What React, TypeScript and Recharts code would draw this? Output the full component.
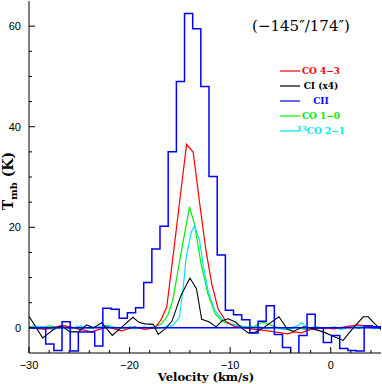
import React from 'react';
import { LineChart, Line, XAxis, YAxis, ReferenceLine, Customized } from 'recharts';

// CII: histogram channels (centres, km/s) and T_mb (K)
const ciiVel = [
  -30.37, -29.56, -28.75, -27.93, -27.12, -26.31, -25.5, -24.69, -23.87, -23.06, -22.25, -21.44,
  -20.63, -19.81, -19.0, -18.19, -17.38, -16.57, -15.75, -14.94, -14.13, -13.32, -12.51, -11.69,
  -10.88, -10.07, -9.26, -8.45, -7.63, -6.82, -6.01, -5.2, -4.39, -3.57, -2.76, -1.95, -1.14,
  -0.33, 0.49, 1.3, 2.11, 2.92, 3.73, 4.55, 5.36,
];
const ciiT = [
  0, 0, 0, -3.2, -4.5, 1.2, -4.6, -0.8, -0.8, -3.6, 3.9, 3.7,
  1.9, 3.0, 4.0, 9.0, 15.7, 20.2, 35.0, 49.0, 62.5, 59.5, 48.0, 30.1,
  14.5, 3.5, 2.6, 1.6, -1.0, 1.3, 4.4, -1.3, -3.9, -7.0, -1.5, 2.7, 0.0,
  -2.9, -1.5, -4.1, -4.5, -4.6, 0.4, 0.2, 0.0,
];

// [velocity, T_mb]
const co43: [number, number][] = [
  [-30, 0.1], [-28.4, -0.3], [-26.6, 0.5], [-25.1, -0.2], [-23.8, -0.8], [-22.2, 0.2], [-20.8, -0.6],
  [-19.5, 0.2], [-18.5, -0.3], [-17.5, 0.0], [-16.9, 1.5], [-16.3, 4.2], [-15.6, 15.5], [-15.0, 25.5],
  [-14.33, 36.5], [-13.67, 34.9], [-13.0, 24.3], [-12.4, 15.3], [-11.8, 8.5], [-11.2, 3.8], [-10.4, 1.2],
  [-9.6, 0.3], [-8.6, 0.0], [-7.6, -0.3], [-6.6, -0.5], [-5.6, -0.8], [-4.3, -1.2], [-3.6, -0.8],
  [-2.9, -1.0], [-2.0, -0.3], [-0.7, 0.0], [0.3, -0.2], [1.4, 0.2], [2.7, 0.6], [3.7, 0.3], [5, 0.1],
];
const ci4: [number, number][] = [
  [-30, 2.3], [-28.64, -2.0], [-27.35, 0.0], [-26.75, 0.4], [-25.92, -0.8], [-25.1, -0.8], [-24.26, 0.6],
  [-23.61, 0.0], [-22.77, 1.0], [-21.72, -1.5], [-20.53, 0.6], [-19.66, 2.1], [-19.07, 1.1], [-18.47, 0.8],
  [-17.64, 0.7], [-17.15, -1.3], [-16.48, -0.2], [-15.79, 1.3], [-14.9, 6.4], [-14.0, 9.9], [-13.35, 7.8],
  [-12.83, 1.7], [-12.11, 1.2], [-11.38, 0.2], [-10.81, 1.4], [-10.19, 1.8], [-9.42, 1.1], [-8.86, 0.0],
  [-8.2, -1.0], [-7.53, -0.9], [-6.71, 0.0], [-5.15, 2.2], [-4.3, -0.3], [-3.73, -0.7], [-2.73, 0.2],
  [-2.07, 0.0], [-0.75, -0.8], [0.42, -1.8], [1.24, -2.5], [1.91, -0.8], [3.23, 2.2], [3.73, 2.2],
  [4.39, 0.8], [5.09, -0.5],
];
const co10: [number, number][] = [
  [-30, 0.3], [-29, -0.2], [-28, 0.4], [-27, 0.0], [-26, 0.3], [-25, -0.3], [-24, 0.2], [-23, 0.1],
  [-22, 0.4], [-21, -0.2], [-20, 0.2], [-19, 0.0], [-18, 0.1], [-17.5, 0.2], [-16.8, 0.8], [-16.2, 2.5],
  [-15.7, 5.5], [-14.87, 15.0], [-14.04, 24.0], [-13.55, 20.7], [-12.89, 12.7], [-12.22, 6.8],
  [-11.5, 2.8], [-10.73, 1.2], [-9.9, 0.7], [-9.2, 0.5], [-8.4, 0.2], [-7.6, 0.3], [-6.8, 1.2],
  [-6.0, 0.6], [-5.2, 0.0], [-4.4, -0.3], [-3.6, 0.2], [-2.8, -0.2], [-2.2, -0.4], [-1.4, 0.2],
  [-0.5, -0.2], [0.4, 0.2], [1.2, -0.2], [2.0, 0.3], [2.8, -0.1], [3.6, 0.4], [4.4, -0.2], [5.1, 0.2],
];
const co13_21: [number, number][] = [
  [-30, 0.0], [-29.6, 0.4], [-28.5, 0.2], [-27.6, -0.4], [-26.7, 0.3], [-25.8, -0.2], [-24.9, 0.4],
  [-24.0, -0.1], [-23.1, 0.2], [-22.2, 0.5], [-21.3, -0.2], [-20.4, 0.1], [-19.5, -0.2], [-18.6, 0.2],
  [-17.7, -0.1], [-16.8, 0.0], [-15.7, 0.5], [-15.04, 2.1], [-14.7, 7.4], [-14.37, 14.0], [-13.87, 19.0],
  [-13.54, 20.3], [-13.04, 17.4], [-12.7, 12.7], [-12.2, 7.4], [-11.54, 3.5], [-10.7, 1.5], [-9.87, 0.8],
  [-8.9, 0.3], [-8.0, 0.0], [-7.2, 0.3], [-6.3, -0.2], [-5.5, 0.1], [-4.7, -0.3], [-3.8, -0.2],
  [-2.89, 1.0], [-2.3, 0.0], [-1.5, 0.2], [-0.7, -0.1], [0.2, 0.1], [1.0, -0.3], [1.9, 0.2], [2.8, 0.4],
  [3.7, 0.1], [4.6, -0.1], [5.2, 0.2],
];

const xTicks = [-30, -28, -26, -24, -22, -20, -18, -16, -14, -12, -10, -8, -6, -4, -2, 0, 2, 4];
const yTicks = [0, 5, 10, 15, 20, 25, 30, 35, 40, 45, 50, 55, 60];

const title = '(\u2212145\u2033/174\u2033)';
const legendItems = [
  { label: 'CO 4\u22123', color: '#ff0000' },
  { label: 'CI (x4)', color: '#000000' },
  { label: 'CII', color: '#0000ff' },
  { label: 'CO 1\u22120', color: '#00ee00' },
  { label: 'CO 2\u22121', color: '#00e5ee', sup: '13' },
];

const toPts = (arr: [number, number][]) => arr.map(([v, t]) => ({ v, t }));
const ciiData = ciiVel.map((v, i) => ({ v, t: ciiT[i] }));

const fmt = (n: number) => (n < 0 ? `\u2212${Math.abs(n)}` : `${n}`);
const tickFont = '"Liberation Sans", Arial, sans-serif';
const serif = '"DejaVu Serif", serif';

const BottomTick = ({ x, y, payload }: any) => {
  const major = payload.value % 10 === 0;
  return (
    <g>
      <line x1={x} x2={x} y1={y} y2={y - (major ? 6 : 3)} stroke="#000" />
      {major && (
        <text x={x} y={y + 16} textAnchor="middle" fontSize={11} fontFamily={tickFont} fill="#000">
          {fmt(payload.value)}
        </text>
      )}
    </g>
  );
};
const TopTick = ({ x, y, payload }: any) => {
  const major = payload.value % 10 === 0;
  return <line x1={x} x2={x} y1={y} y2={y + (major ? 6 : 3)} stroke="#000" />;
};
const LeftTick = ({ x, y, payload }: any) => {
  const major = payload.value % 20 === 0;
  return (
    <g>
      <line x1={x} x2={x + (major ? 6 : 3)} y1={y} y2={y} stroke="#000" />
      {major && (
        <text x={x - 8} y={y + 4} textAnchor="end" fontSize={11} fontFamily={tickFont} fill="#000">
          {fmt(payload.value)}
        </text>
      )}
    </g>
  );
};
const RightTick = ({ x, y, payload }: any) => {
  const major = payload.value % 20 === 0;
  return <line x1={x} x2={x - (major ? 6 : 3)} y1={y} y2={y} stroke="#000" />;
};

const Annotations = () => (
  <g>
    <text x={301} y={31} textAnchor="middle" fontSize={15} fontFamily={serif} fill="#000">
      {title}
    </text>
    {legendItems.map((it, i) => {
      const y = 71 + i * 15;
      return (
        <g key={it.label}>
          <line x1={280} x2={300} y1={y} y2={y} stroke={it.color} strokeWidth={1.2} />
          <text x={321} y={y + 3} textAnchor="middle" fontSize={9} fontWeight="bold" fontFamily={serif} fill={it.color}>
            {it.sup && (
              <tspan fontSize={7} dy={-3}>
                {it.sup}
              </tspan>
            )}
            {it.sup ? <tspan dy={3}>{it.label}</tspan> : it.label}
          </text>
        </g>
      );
    })}
    <text x={206} y={381} textAnchor="middle" fontSize={11.5} fontWeight="bold" fontFamily={serif} fill="#000">
      Velocity (km/s)
    </text>
    <text
      x={13}
      y={181}
      textAnchor="middle"
      fontSize={14}
      fontWeight="bold"
      fontFamily={serif}
      fill="#000"
      transform="rotate(-90 13 181)"
    >
      T
      <tspan fontSize={10} dy={4}>mb</tspan>
      <tspan dy={-4}> (K)</tspan>
    </text>
  </g>
);

export default function App() {
  return (
    <div style={{ position: 'absolute', left: 0, top: 0, background: '#fff' }}>
      <LineChart width={382} height={384} margin={{ top: 1, right: 1, bottom: 0, left: 0 }}>
        <XAxis
          xAxisId="b"
          dataKey="v"
          type="number"
          domain={[-30, 5]}
          allowDataOverflow
          ticks={xTicks}
          interval={0}
          height={31}
          tickSize={0}
          tickMargin={0}
          tick={<BottomTick />}
          axisLine={{ stroke: '#000' }}
        />
        <XAxis
          xAxisId="t"
          orientation="top"
          dataKey="v"
          type="number"
          domain={[-30, 5]}
          allowDataOverflow
          ticks={xTicks}
          interval={0}
          height={0}
          tickSize={0}
          tickMargin={0}
          tick={<TopTick />}
          axisLine={{ stroke: '#000' }}
        />
        <YAxis
          yAxisId="l"
          type="number"
          domain={[-5, 65]}
          allowDataOverflow
          ticks={yTicks}
          interval={0}
          width={29}
          tickSize={0}
          tickMargin={0}
          tick={<LeftTick />}
          axisLine={{ stroke: '#000' }}
        />
        <YAxis
          yAxisId="r"
          orientation="right"
          type="number"
          domain={[-5, 65]}
          allowDataOverflow
          ticks={yTicks}
          interval={0}
          width={0}
          tickSize={0}
          tickMargin={0}
          tick={<RightTick />}
          axisLine={{ stroke: '#000' }}
        />
        <Line xAxisId="b" yAxisId="l" data={toPts(co10)} dataKey="t" type="linear" stroke="#00ee00" strokeWidth={1.2} dot={false} isAnimationActive={false} />
        <Line xAxisId="b" yAxisId="l" data={toPts(co13_21)} dataKey="t" type="linear" stroke="#00e5ee" strokeWidth={1.2} dot={false} isAnimationActive={false} />
        <Line xAxisId="b" yAxisId="l" data={toPts(co43)} dataKey="t" type="linear" stroke="#ff0000" strokeWidth={1.2} dot={false} isAnimationActive={false} />
        <Line xAxisId="b" yAxisId="l" data={toPts(ci4)} dataKey="t" type="linear" stroke="#000000" strokeWidth={1.1} dot={false} isAnimationActive={false} />
        <Line xAxisId="b" yAxisId="l" data={ciiData} dataKey="t" type="step" stroke="#0000ff" strokeWidth={1.5} dot={false} isAnimationActive={false} />
        <ReferenceLine xAxisId="b" yAxisId="l" y={0} stroke="#0000ff" strokeWidth={1.5} />
        <Customized component={Annotations} />
      </LineChart>
    </div>
  );
}
